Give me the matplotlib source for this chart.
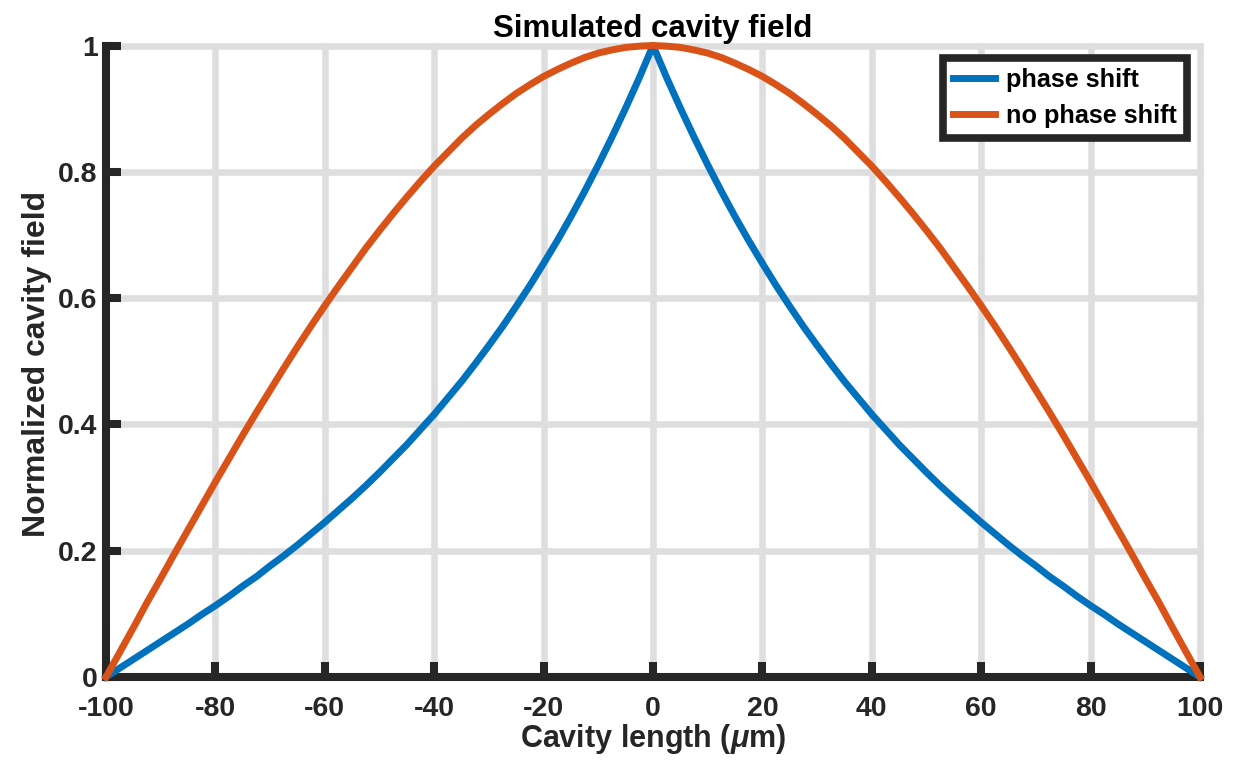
import matplotlib
matplotlib.use("Agg")
import matplotlib.pyplot as plt

# cavity position (um), sampled every 2.5 um
x = [i * 2.5 for i in range(-40, 41)]

# field with the phase shift
phase = [0.0, 0.014, 0.028, 0.042, 0.056, 0.070, 0.084, 0.099, 0.113, 0.128,
         0.144, 0.159, 0.176, 0.192, 0.209, 0.227, 0.245, 0.264, 0.283, 0.303,
         0.324, 0.346, 0.368, 0.392, 0.416, 0.442, 0.468, 0.496, 0.525, 0.555,
         0.587, 0.620, 0.655, 0.691, 0.729, 0.769, 0.811, 0.855, 0.901, 0.949,
         1.0,
         0.949, 0.901, 0.855, 0.811, 0.769, 0.729, 0.691, 0.655, 0.620, 0.587,
         0.555, 0.525, 0.496, 0.468, 0.442, 0.416, 0.392, 0.368, 0.346, 0.324,
         0.303, 0.283, 0.264, 0.245, 0.227, 0.209, 0.192, 0.176, 0.159, 0.144,
         0.128, 0.113, 0.099, 0.084, 0.070, 0.056, 0.042, 0.028, 0.014, 0.0]

# field without phase shift
nophase = [0.0, 0.039, 0.078, 0.118, 0.156, 0.195, 0.233, 0.271, 0.309, 0.346,
           0.383, 0.419, 0.454, 0.489, 0.523, 0.556, 0.588, 0.619, 0.649, 0.679,
           0.707, 0.734, 0.760, 0.785, 0.809, 0.831, 0.853, 0.873, 0.891, 0.908,
           0.924, 0.938, 0.951, 0.962, 0.972, 0.981, 0.988, 0.993, 0.997, 0.999,
           1.0,
           0.999, 0.997, 0.993, 0.988, 0.981, 0.972, 0.962, 0.951, 0.938, 0.924,
           0.908, 0.891, 0.873, 0.853, 0.831, 0.809, 0.785, 0.760, 0.734, 0.707,
           0.679, 0.649, 0.619, 0.588, 0.556, 0.523, 0.489, 0.454, 0.419, 0.383,
           0.346, 0.309, 0.271, 0.233, 0.195, 0.156, 0.118, 0.078, 0.039, 0.0]

xticks = [-100, -80, -60, -40, -20, 0, 20, 40, 60, 80, 100]
yticks = [0, 0.2, 0.4, 0.6, 0.8, 1]
ylabels = ['0', '0.2', '0.4', '0.6', '0.8', '1']

plt.rcParams['font.family'] = ['Liberation Sans', 'DejaVu Sans']
plt.rcParams['font.weight'] = 'bold'
plt.rcParams['axes.unicode_minus'] = False
plt.rcParams['mathtext.fontset'] = 'custom'
plt.rcParams['mathtext.it'] = 'Liberation Sans:italic'

dark = '#262626'
fig = plt.figure(figsize=(12.46, 7.63), dpi=100)
ax = fig.add_axes([106 / 1246, 1 - 677 / 763, (1200 - 106) / 1246, (677 - 45.5) / 763])

ax.plot(x, phase, color='#0072BD', lw=5, label='phase shift', zorder=4, clip_on=False)
ax.plot(x, nophase, color='#D95319', lw=5, label='no phase shift', zorder=4, clip_on=False)

ax.set_xlim(-100, 100)
ax.set_ylim(0, 1)
ax.set_xticks(xticks)
ax.set_yticks(yticks)
ax.set_yticklabels(ylabels)

ax.grid(True, color='#dedede', lw=4.7)
for gl in ax.get_xgridlines() + ax.get_ygridlines():
    gl.set_clip_on(False)
ax.set_axisbelow(True)

for side in ['top', 'right']:
    ax.spines[side].set_visible(False)
for side in ['left', 'bottom']:
    ax.spines[side].set_linewidth(5.8)
    ax.spines[side].set_color(dark)
    ax.spines[side].set_zorder(3)

ax.tick_params(direction='in', length=11, width=5.8, color=dark,
               labelsize=20.5, labelcolor=dark, top=False, right=False)
ax.tick_params(axis='x', pad=14)
ax.tick_params(axis='y', pad=6)
for lab in ax.get_xticklabels() + ax.get_yticklabels():
    lab.set_fontweight('bold')

ax.set_title('Simulated cavity field', fontsize=22.5, fontweight='bold', pad=6)
ax.set_xlabel(r'Cavity length ($\mu$m)', fontsize=22, fontweight='bold', color=dark, labelpad=0)
ax.set_ylabel('Normalized cavity field', fontsize=23, fontweight='bold', color=dark)
ax.yaxis.set_label_coords(-0.049, 0.495)

leg = ax.legend(loc='upper right', fontsize=18.2, frameon=True, fancybox=False,
                handlelength=1.65, handletextpad=0.45, borderpad=0.4, labelspacing=0.45,
                borderaxespad=0.5)
leg.get_frame().set_edgecolor(dark)
leg.get_frame().set_linewidth(5.5)
leg.get_frame().set_alpha(1)
for t in leg.get_texts():
    t.set_fontweight('bold')
leg.set_zorder(5)

fig.savefig('out.png', dpi=100)
